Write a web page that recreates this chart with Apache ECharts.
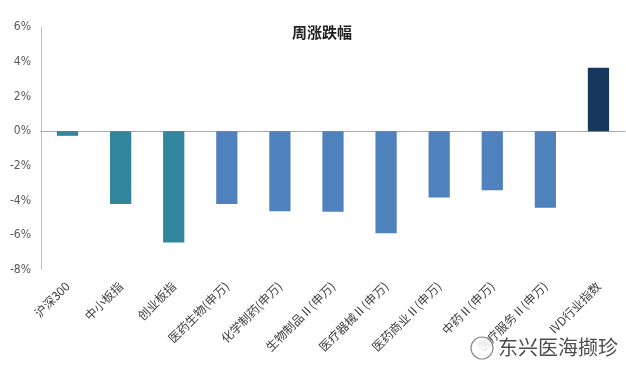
<!DOCTYPE html>
<html>
<head>
<meta charset="utf-8">
<script src="https://cdn.jsdelivr.net/npm/echarts@6/dist/echarts.min.js"></script>
<style>
    html, body { margin: 0; padding: 0; background: #fff; }
    #chart { width: 626px; height: 376px; }
</style>
</head>
<body>
<div id="chart"></div>
<script>
// 分类
var categories = ["沪深300", "中小板指", "创业板指", "医药生物(申万)", "化学制药(申万)", "生物制品Ⅱ(申万)",
    "医疗器械Ⅱ(申万)", "医药商业Ⅱ(申万)", "中药Ⅱ(申万)", "医疗服务Ⅱ(申万)", "IVD行业指数"];
// 周涨跌幅 (%)
var weeklyChange = [-0.27, -4.2, -6.42, -4.2, -4.62, -4.65, -5.88, -3.82, -3.4, -4.42, 3.65];
// 每根柱子的颜色分组：0 指数，1 申万行业，2 IVD
var colorGroup = [0, 0, 0, 1, 1, 1, 1, 1, 1, 1, 2];
var groupColors = ['#31859c', '#4f81bd', '#17375e'];
var yTicks = [-8, -6, -4, -2, 0, 2, 4, 6];

(function () {
    var myChart = echarts.init(document.getElementById('chart'));
    var option = {
        animation: false,
        title: {
            text: '周涨跌幅',
            left: 287,
            top: 20,
            textStyle: {
                fontFamily: 'Noto Sans CJK SC',
                fontSize: 15,
                fontWeight: 'bold',
                color: '#222'
            }
        },
        grid: {
            left: 41,
            right: 1,
            top: 27,
            bottom: 106
        },
        xAxis: [
            {
                type: 'category',
                data: categories,
                axisLine: { show: false, onZero: false },
                axisTick: { show: false },
                axisLabel: {
                    rotate: 45,
                    interval: 0,
                    margin: 14,
                    color: '#404040',
                    fontSize: 12,
                    fontFamily: 'Noto Sans CJK SC'
                }
            },
            {
                // 0% 处的横线
                type: 'category',
                data: categories,
                position: 'bottom',
                axisLine: { show: true, onZero: true, lineStyle: { color: '#a6a6a6', width: 1 } },
                axisTick: { show: false },
                axisLabel: { show: false }
            }
        ],
        yAxis: {
            type: 'value',
            min: yTicks[0],
            max: yTicks[yTicks.length - 1],
            interval: 2,
            axisLine: { show: true, lineStyle: { color: '#bfbfbf' } },
            axisTick: { show: false },
            splitLine: { show: false },
            axisLabel: {
                margin: 10,
                color: '#595959',
                fontSize: 12,
                fontFamily: '"DejaVu Sans Condensed", "Liberation Sans Narrow", "Liberation Sans", sans-serif',
                formatter: function (v) { return v + '%'; }
            }
        },
        series: [
            {
                name: '周涨跌幅',
                type: 'bar',
                xAxisIndex: 0,
                barWidth: '40%',
                data: weeklyChange.map(function (v, i) {
                    return { value: v, itemStyle: { color: groupColors[colorGroup[i]] } };
                })
            }
        ],
        graphic: [
            {
                type: 'text',
                left: 497,
                top: 336,
                z: 100,
                style: {
                    text: '东兴医海撷珍',
                    font: '20px "Noto Sans CJK SC"',
                    fill: '#4d4d4d',
                    stroke: '#ffffff',
                    lineWidth: 2
                }
            },
            {
                type: 'circle',
                z: 100,
                shape: { cx: 482, cy: 348, r: 11 },
                style: { fill: 'rgba(255,255,255,0.85)', stroke: '#8c8c8c', lineWidth: 1.2 }
            }
        ]
    };
    myChart.setOption(option);
    window.addEventListener("resize", function () {
        myChart.resize();
    });
})();
</script>
</body>
</html>
